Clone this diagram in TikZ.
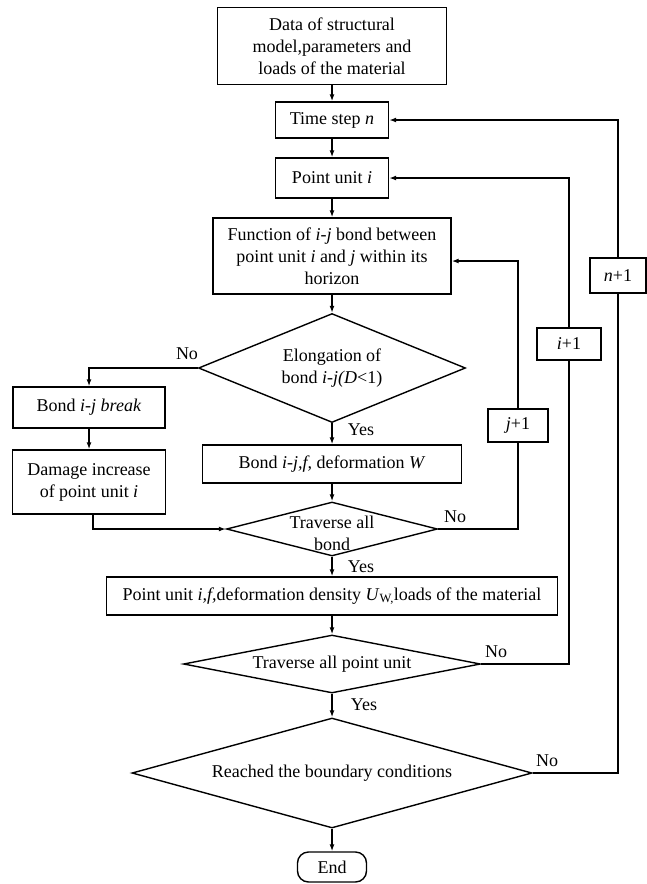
\documentclass[tikz,border=0pt]{standalone}
\usepackage{fontspec}
\setmainfont{Liberation Serif}
\usetikzlibrary{shapes.geometric,arrows.meta}

\begin{document}
\begin{tikzpicture}[x=1pt, y=-1pt,
  font=\fontsize{18}{22}\selectfont,
  box/.style={draw, line width=1.4pt, inner sep=0pt, align=center},
  decision/.style={draw, diamond, line width=1.4pt, inner sep=0pt},
  arr/.style={line width=1.4pt, -{Latex[length=7pt,width=5pt]}},
  link/.style={line width=1.4pt}]
% Set the page size
\useasboundingbox (0, 0) rectangle (646, 884);

% Main column
\node[box, minimum width=229, minimum height=77] (data) at (332, 46) {Data of structural\\model,parameters and\\loads of the material};
\node[box, minimum width=113, minimum height=36] (tstep) at (332, 120) {Time step \textit{n}};
\node[box, minimum width=113, minimum height=40] (pu) at (332, 178) {Point unit \textit{i}};
\node[box, minimum width=238, minimum height=76] (func) at (332, 256) {Function of \textit{i-j} bond between\\point unit \textit{i} and \textit{j} within its\\horizon};
\node[decision, minimum width=267, minimum height=109] (elong) at (332, 368) {};
\node[align=center] (elongtxt) at (332, 368) {Elongation of\\bond \textit{i-j(D}<1)};
\node[box, minimum width=259, minimum height=38] (bondf) at (332, 464) {Bond \textit{i-j,f,} deformation \textit{W}};
\node[decision, minimum width=211, minimum height=54] (tball) at (332, 529) {};
\node[align=center] (tballtxt) at (332, 533) {Traverse all\\bond};
\node[box, minimum width=451, minimum height=38] (puf) at (332, 596) {Point unit \textit{i,f,}deformation density \textit{U}\textsubscript{W,}loads of the material};
\node[decision, minimum width=297, minimum height=58] (tbpu) at (332, 664) {};
\node (tbputxt) at (332, 664) {Traverse all point unit};
\node[decision, minimum width=400, minimum height=110] (reach) at (332, 773) {};
\node (reachtxt) at (332, 773) {Reached the boundary conditions};
\node[box, rounded corners=11pt, minimum width=69, minimum height=30] (endn) at (332, 867) {End};

% Left branch
\node[box, minimum width=152, minimum height=41] (brk) at (89, 407.5) {Bond \textit{i-j break}};
\node[box, minimum width=153, minimum height=64] (dmg) at (89, 482) {Damage increase\\of point unit \textit{i}};

% Counters
\node[box, minimum width=60, minimum height=33] (jp1) at (518, 425.5) {\textit{j}+1};
\node[box, minimum width=64, minimum height=32] (ip1) at (569, 344) {\textit{i}+1};
\node[box, minimum width=56, minimum height=35] (np1) at (618, 275.5) {\textit{n}+1};

% Yes and No
\node (no1) at (187, 354) {No};
\node (no2) at (455, 517) {No};
\node (no3) at (496, 652) {No};
\node (no4) at (547, 761) {No};
\node (yes1) at (361, 430) {Yes};
\node (yes2) at (361, 567) {Yes};
\node (yes3) at (364, 705) {Yes};

% Connectors
\draw[arr] (data) -- (tstep);
\draw[arr] (tstep) -- (pu);
\draw[arr] (pu) -- (func);
\draw[arr] (func) -- (elong);
\draw[arr] (elong) -- (bondf);
\draw[arr] (bondf) -- (tball);
\draw[arr] (tball) -- (puf);
\draw[arr] (puf) -- (tbpu);
\draw[arr] (tbpu) -- (reach);
\draw[arr] (reach) -- (endn);
\draw[arr] (elong.west) -| (brk.north);
\draw[arr] (brk) -- (dmg);
\draw[arr] ([xshift=4pt]dmg.south) |- (tball.west);
\draw[link] (tball.east) -| (jp1.south);
\draw[arr] (jp1.north) |- ([yshift=-5pt]func.east);
\draw[link] (tbpu.east) -| (ip1.south);
\draw[arr] (ip1.north) |- (pu.east);
\draw[link] (reach.east) -| (np1.south);
\draw[arr] (np1.north) |- (tstep.east);
\end{tikzpicture}
\end{document}
